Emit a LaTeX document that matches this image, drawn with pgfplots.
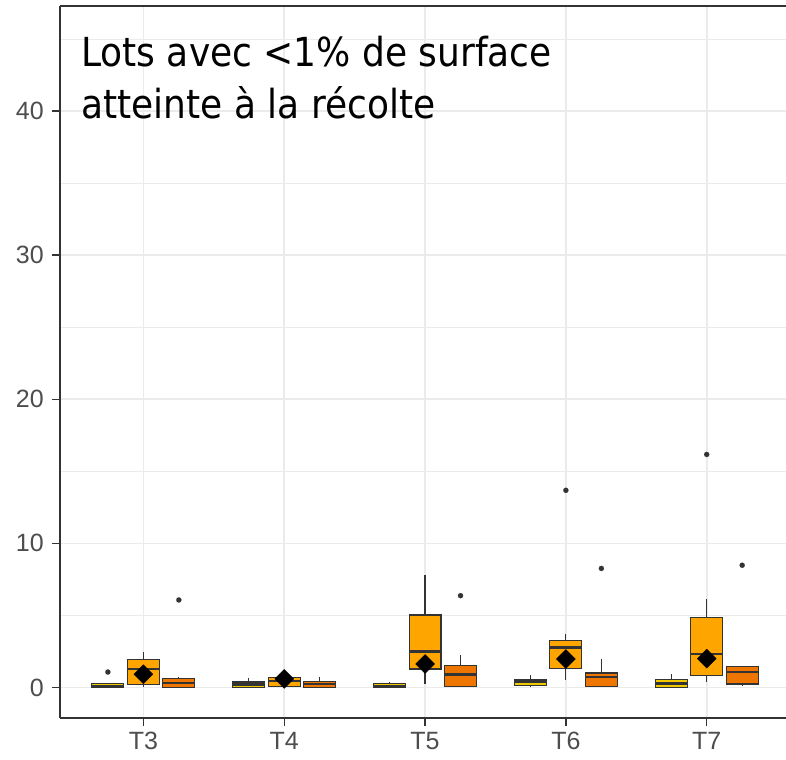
\documentclass[border=0pt]{standalone}
\usepackage{fontspec}
\setmainfont{Liberation Sans}
\newfontfamily\titlefont[FakeStretch=0.9]{DejaVu Sans}
\usepackage{pgfplots}
\pgfplotsset{compat=1.18}
\usepgfplotslibrary{statistics}
\definecolor{cyel}{HTML}{F0C800}
\definecolor{corg}{HTML}{FFA500}
\definecolor{cdor}{HTML}{EE7600}
\definecolor{cline}{HTML}{333333}
\definecolor{ctick}{HTML}{4D4D4D}
\definecolor{cgrid}{HTML}{EBEBEB}
\pgfplotsset{
  bx/.style={
    draw=cline, line width=1.1bp,
    boxplot/box extend=0.227,
    boxplot/whisker extend=0,
    boxplot/every median/.style={line width=2.4bp, draw=cline},
    mark=*, mark size=2.6bp, mark options={draw=cline, fill=cline, line width=0.1bp},
  },
}
\begin{document}
\begin{tikzpicture}
\useasboundingbox (0,0) rectangle (786bp,760bp);
\begin{axis}[
  at={(60bp,42bp)}, anchor=south west,
  scale only axis, width=726bp, height=712bp,
  xmin=0.408, xmax=5.563, ymin=-2.12, ymax=47.29,
  axis x line*=box, axis y line*=left,
  axis line style={-, draw=cline, line width=1.3bp},
  xtick={1,2,3,4,5}, xticklabels={T3,T4,T5,T6,T7},
  ytick={0,10,20,30,40},
  minor ytick={5,15,25,35,45},
  xtick pos=bottom, ytick pos=left,
  tick align=outside, major tick length=8bp, minor tick length=0pt,
  major tick style={draw=cline, line width=1.3bp},
  xmajorgrids, ymajorgrids, yminorgrids,
  major grid style={draw=cgrid, line width=1.6bp},
  minor grid style={draw=cgrid, line width=0.8bp},
  /pgf/number format/assume math mode=true,
  tick label style={font=\fontsize{25bp}{30bp}\selectfont, text=ctick},
  yticklabel style={inner sep=8bp},
  xticklabel style={inner sep=6bp},
  boxplot/draw direction=y,
  clip=true,
]
% T3
\addplot[bx, fill=cyel, boxplot prepared={draw position=0.748, lower whisker=0, lower quartile=0, median=0.1, upper quartile=0.25, upper whisker=0.25}] coordinates {(0,1.07)};
\addplot[bx, fill=corg, boxplot prepared={draw position=1, lower whisker=0, lower quartile=0.22, median=1.3, upper quartile=1.97, upper whisker=2.45}] coordinates {};
\addplot[bx, fill=cdor, boxplot prepared={draw position=1.252, lower whisker=0, lower quartile=0, median=0.32, upper quartile=0.64, upper whisker=0.7}] coordinates {(0,6.07)};
% T4
\addplot[bx, fill=cyel, boxplot prepared={draw position=1.748, lower whisker=0, lower quartile=0, median=0.2, upper quartile=0.38, upper whisker=0.66}] coordinates {};
\addplot[bx, fill=corg, boxplot prepared={draw position=2, lower whisker=0, lower quartile=0.06, median=0.45, upper quartile=0.71, upper whisker=0.75}] coordinates {};
\addplot[bx, fill=cdor, boxplot prepared={draw position=2.252, lower whisker=0, lower quartile=0, median=0.24, upper quartile=0.4, upper whisker=0.75}] coordinates {};
% T5
\addplot[bx, fill=cyel, boxplot prepared={draw position=2.748, lower whisker=0, lower quartile=0, median=0.1, upper quartile=0.25, upper whisker=0.4}] coordinates {};
\addplot[bx, fill=corg, boxplot prepared={draw position=3, lower whisker=0.22, lower quartile=1.28, median=2.5, upper quartile=5.03, upper whisker=7.8}] coordinates {};
\addplot[bx, fill=cdor, boxplot prepared={draw position=3.252, lower whisker=0.06, lower quartile=0.06, median=0.89, upper quartile=1.54, upper whisker=2.24}] coordinates {(0,6.37)};
% T6
\addplot[bx, fill=cyel, boxplot prepared={draw position=3.748, lower whisker=0.03, lower quartile=0.14, median=0.42, upper quartile=0.56, upper whisker=0.86}] coordinates {};
\addplot[bx, fill=corg, boxplot prepared={draw position=4, lower whisker=0.51, lower quartile=1.3, median=2.76, upper quartile=3.27, upper whisker=3.68}] coordinates {(0,13.68)};
\addplot[bx, fill=cdor, boxplot prepared={draw position=4.252, lower whisker=0.07, lower quartile=0.07, median=0.74, upper quartile=1.0, upper whisker=2.0}] coordinates {(0,8.26)};
% T7
\addplot[bx, fill=cyel, boxplot prepared={draw position=4.748, lower whisker=0, lower quartile=0, median=0.28, upper quartile=0.56, upper whisker=0.93}] coordinates {};
\addplot[bx, fill=corg, boxplot prepared={draw position=5, lower whisker=0.35, lower quartile=0.84, median=2.32, upper quartile=4.88, upper whisker=6.12}] coordinates {(0,16.17)};
\addplot[bx, fill=cdor, boxplot prepared={draw position=5.252, lower whisker=0.1, lower quartile=0.24, median=1.09, upper quartile=1.44, upper whisker=1.44}] coordinates {(0,8.48)};
% means
\addplot[only marks, mark=square*, mark size=6.7bp, mark options={rotate=45, fill=black, draw=black}] coordinates {(1,0.92) (2,0.59) (3,1.63) (4,1.97) (5,2.0)};
\node[anchor=base west, inner sep=0pt, font=\titlefont\fontsize{40bp}{48bp}\selectfont] at (axis cs:0.557,43.06) {Lots avec <1\% de surface};
\node[anchor=base west, inner sep=0pt, font=\titlefont\fontsize{40bp}{48bp}\selectfont] at (axis cs:0.557,39.45) {atteinte à la récolte};
\end{axis}
\end{tikzpicture}
\end{document}
